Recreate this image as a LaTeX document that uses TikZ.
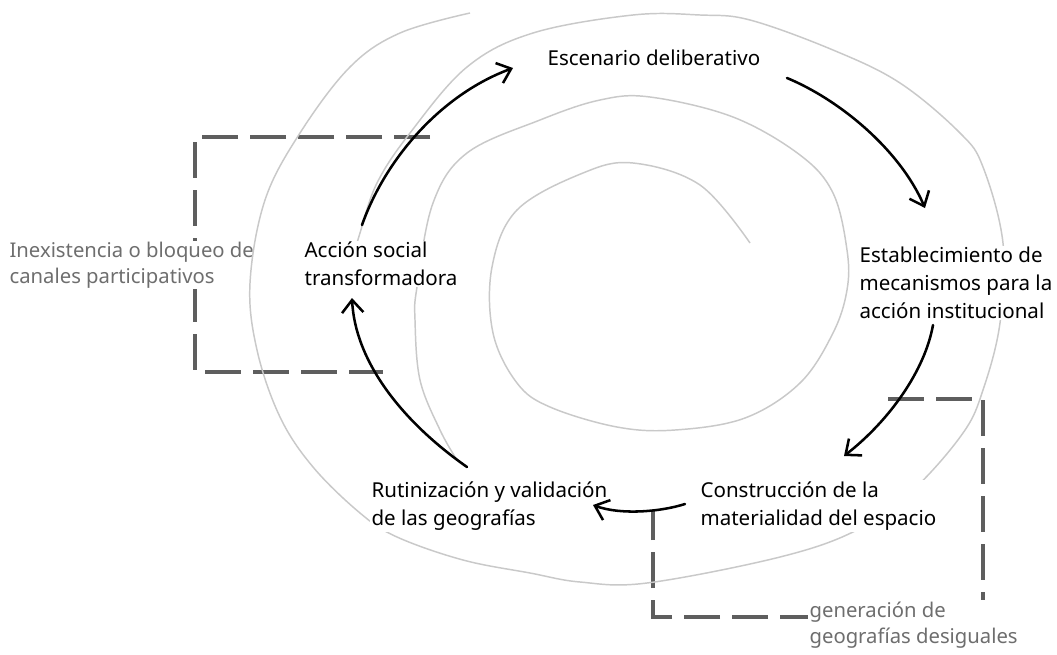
\documentclass[tikz,border=0pt]{standalone}
\usepackage{fontspec}
\setmainfont{Noto Sans}
\usetikzlibrary{arrows.meta}
\definecolor{spiralgray}{HTML}{C9C9C9}
\definecolor{dashgray}{HTML}{5E5E5E}
\definecolor{labelgray}{HTML}{6E6E6E}
\tikzset{
  stage/.style={anchor=west, align=left, fill=white, inner sep=1pt, font=\fontsize{15.4}{21}\selectfont, text=black},
  note/.style={anchor=west, align=left, fill=white, inner sep=1pt, font=\fontsize{15.2}{19.5}\selectfont, text=labelgray},
  flow/.style={line width=1.9pt, line cap=round, -{Straight Barb[length=9.5pt,width=16pt,line width=1.9pt]}},
  spiral/.style={draw=spiralgray, line width=1.1pt},
  bracket/.style={draw=dashgray, line width=3pt, dash pattern=on 27pt off 9pt}
}
\begin{document}
\begin{tikzpicture}[x=0.75pt,y=-0.75pt]
\useasboundingbox (0,0) rectangle (1057,654);
\fill[white] (0,0) rectangle (1057,654);

% dashed brackets
\draw[bracket] (430,137) -- (195,137) -- (195,372) -- (383,372);
\draw[bracket] (888,399) -- (983,399) -- (983,617) -- (653,617) -- (653,510);

% gray notes
\node[note] (inex) at (8,265) {Inexistencia o bloqueo de\\canales participativos};

% spiral
\draw[spiral] plot[smooth, tension=0.6] coordinates {
 (470,13) (400,33) (350,67) (300,133) (265,200) (250,283) (257,350) (280,417)
 (313,467) (360,513) (397,537) (463,560) (530,573) (580,582) (647,583)
 (780,557) (857,530) (913,490) (963,433) (983,390) (1000,323) (1003,243)
 (983,167) (960,133) (900,83) (833,50) (750,20) (700,15) (633,15) (533,33)
 (467,67) (410,133) (377,183) (360,233) (352,262)};
\draw[spiral] plot[smooth, tension=0.6] coordinates {
 (750,243) (700,185) (633,163) (583,173) (517,210) (492,267) (493,333)
 (517,383) (550,407) (617,427) (675,430) (745,418) (800,383) (833,333)
 (847,290) (847,250) (833,193) (800,155) (733,117) (650,97) (600,100)
 (540,120) (467,153) (433,203) (417,287) (415,320) (420,380) (440,430) (457,460)};

\node[note] (gen) at (808,625) {generación de\\geografías desiguales};

% stages
\node[stage] (esc) at (546,58) {Escenario deliberativo};
\node[stage] (est) at (858,283) {Establecimiento de\\mecanismos para la\\acción institucional};
\node[stage] (con) at (699,506) {Construcción de la\\materialidad del espacio};
\node[stage] (rut) at (370,506) {Rutinización y validación\\de las geografías};
\node[stage] (acc) at (303,264) {Acción social\\transformadora};

% arrow end points
\coordinate (a1s) at (362,225); \coordinate (a1e) at (513,68);
\coordinate (a2s) at (787,78);  \coordinate (a2e) at (925,208);
\coordinate (a3s) at (933,325); \coordinate (a3e) at (844,456);
\coordinate (a4s) at (685,504); \coordinate (a4e) at (593,505);
\coordinate (a5s) at (467,467); \coordinate (a5e) at (352,298);

\draw[flow] (a1s) .. controls (385,160) and (440,95) .. (a1e);
\draw[flow] (a2s) .. controls (840,100) and (900,150) .. (a2e);
\draw[flow] (a3s) .. controls (925,370) and (890,420) .. (a3e);
\draw[flow] (a4s) .. controls (660,512) and (620,515) .. (a4e);
\draw[flow] (a5s) .. controls (400,420) and (355,360) .. (a5e);
\end{tikzpicture}
\end{document}
